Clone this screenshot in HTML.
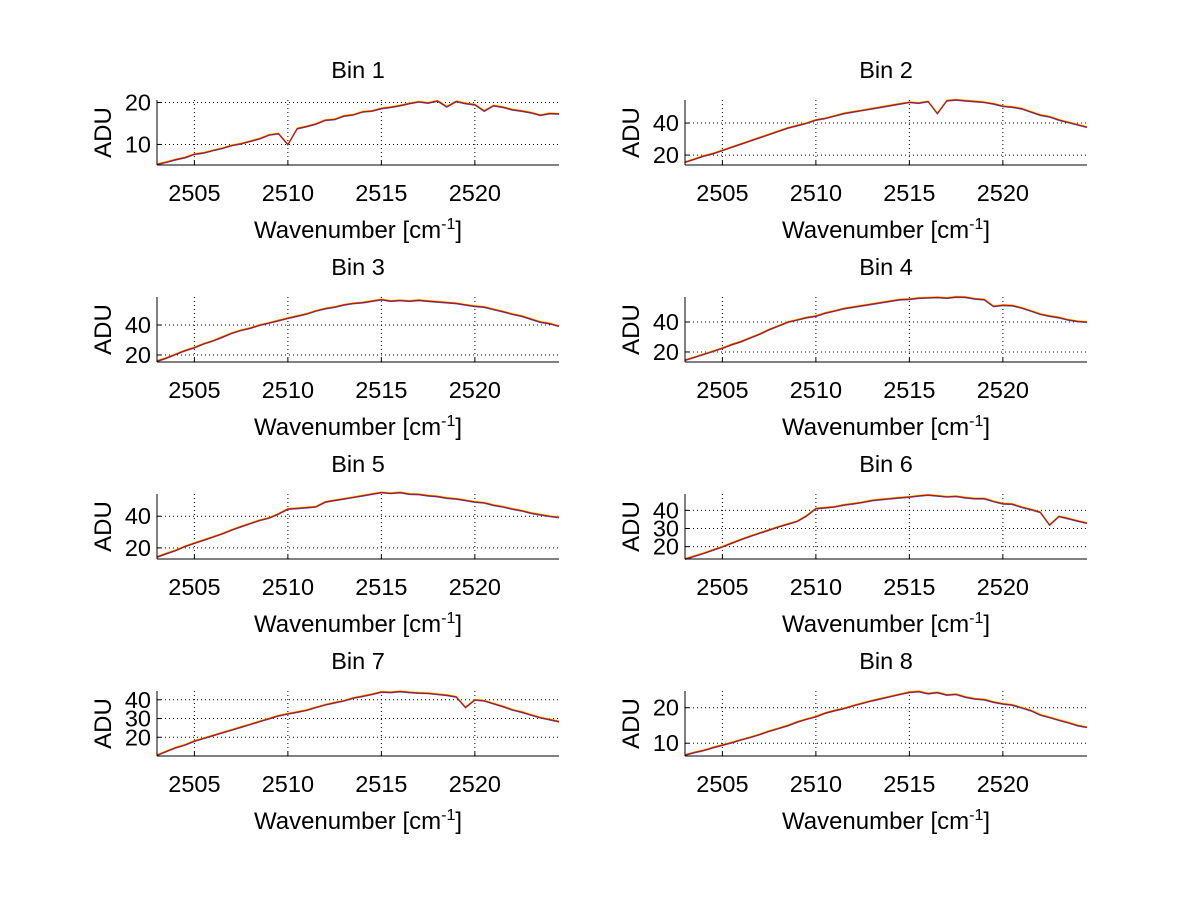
<!DOCTYPE html>
<html><head><meta charset="utf-8"><style>
html,body{margin:0;padding:0;background:#fff;}
svg{display:block;font-family:"Liberation Sans",Arial,sans-serif;}
</style></head><body>
<svg id="fig" width="1200" height="901" viewBox="0 0 1200 901" xmlns="http://www.w3.org/2000/svg"></svg>
<script>
const wavenumbers = [2503,2503.5,2504,2504.5,2505,2505.5,2506,2506.5,2507,2507.5,2508,2508.5,2509,2509.5,2510,2510.5,2511,2511.5,2512,2512.5,2513,2513.5,2514,2514.5,2515,2515.5,2516,2516.5,2517,2517.5,2518,2518.5,2519,2519.5,2520,2520.5,2521,2521.5,2522,2522.5,2523,2523.5,2524,2524.5];
const xTicks = [2505,2510,2515,2520];
const bin1 = [5.3,5.8,6.4,6.9,7.7,8.0,8.6,9.1,9.8,10.2,10.8,11.4,12.3,12.6,10.0,13.8,14.3,14.9,15.8,16.0,16.8,17.1,17.8,18.0,18.6,18.9,19.3,19.8,20.2,19.9,20.4,19.0,20.3,19.8,19.5,18.0,19.3,18.9,18.3,18.0,17.6,17.0,17.4,17.3];
const bin2 = [15.6,17.5,19.5,21,23,25,27,29,31,33,35,37,38.5,40,42,43,44.5,46,47,48,49,50,51,52,53,52.5,53.5,46,54,54.5,54,53.5,53,52,50.6,50,49,47,45,44,42,40.5,39,37.5];
const bin3 = [16,18,20.5,23,25,27.5,29.5,32,34.6,36.5,38,40,41.5,43,44.6,46,47.5,49.5,51,52,53.5,54.5,55,56,57,56,56.5,56,56.6,56,55.5,55,54.5,53.5,52.6,52,50.5,49,47.3,46,44,42,41,39.3];
const bin4 = [14.6,16.5,18.5,20.5,22.6,25,27,29.5,32,35,37.5,40,41.5,43,44,46,47.5,49,50,51,52,53,54,55,55.3,56,56.2,56.5,56,56.8,56.6,55.5,55,50.5,51.3,51,49.5,47.5,45.3,44,43,41.5,40.5,40];
const bin5 = [14.3,16.5,18.5,21,23,25,27,29,31.4,33.5,35.5,37.5,39,41.5,44.6,45,45.5,46,49,50,51,52,53,54,55,54.5,55,54,53.8,53,52.5,51.5,51,50,49,48.5,47,46,44.6,43.5,42,41,40,39.3];
const bin6 = [13.2,14.8,16.4,18.2,20,22,24,25.8,27.6,29.2,31,32.5,34,37,41,41.5,42,43,43.7,44.5,45.5,46,46.5,47,47.4,48,48.5,48,47.5,47.8,47,46.5,46.5,45,43.7,43.5,41.8,40.5,39,32,36.7,35.5,34.2,33];
const bin7 = [10.5,12.5,14.5,16,18,19.5,21,22.5,24,25.5,27,28.5,30,31.5,32.6,33.5,34.5,36,37.4,38.5,39.5,41,42,43,44.2,44,44.5,44,43.7,43.5,43,42.5,41.6,36,40,39.5,38,36.5,34.7,33.5,32,30.5,29.5,28.4];
const bin8 = [6.7,7.4,8,8.8,9.5,10.2,11,11.7,12.5,13.4,14.2,15,16,16.8,17.5,18.5,19.2,19.8,20.6,21.3,22,22.6,23.2,23.8,24.4,24.6,24,24.3,23.6,23.8,23,22.5,22.3,21.6,21.1,20.8,20,19.2,18,17.3,16.5,15.8,15,14.5];
const binSeries = [bin1,bin2,bin3,bin4,bin5,bin6,bin7,bin8];
const binTitles = ["Bin 1","Bin 2","Bin 3","Bin 4","Bin 5","Bin 6","Bin 7","Bin 8"];
const yLims = [[5.1,20.6],[13.8,54.4],[15.3,58.7],[13.3,56.7],[13,54],[13.2,49],[10,44.7],[6.4,24.7]];
const yTicks = [[10,20],[20,40],[20,40],[20,40],[20,40],[20,30,40],[20,30,40],[10,20]];

const NS="http://www.w3.org/2000/svg";
const svg=document.getElementById('fig');
function mk(tag,attrs,parent){const e=document.createElementNS(NS,tag);for(const k in attrs)e.setAttribute(k,attrs[k]);(parent||svg).appendChild(e);return e;}
const xMin=2503,xMax=2524.5,axW=402,axH=65;
const lefts=[157,685],tops=[100,297,494,691];
binSeries.forEach((data,i)=>{
  const L=lefts[i%2],T=tops[Math.floor(i/2)],B=T+axH,R=L+axW;
  const [y0,y1]=yLims[i];
  const sx=v=>L+(v-xMin)/(xMax-xMin)*axW;
  const sy=v=>B-(v-y0)/(y1-y0)*axH;
  const g=mk('g',{});
  
  
  xTicks.forEach(t=>{
    const l=mk('line',{x1:sx(t),x2:sx(t),y1:T,y2:B,stroke:'#000','stroke-width':1,'stroke-dasharray':'1,3'},g);
    
    
    mk('line',{x1:sx(t),x2:sx(t),y1:B,y2:B-4,stroke:'#000'},g);
    const tx=mk('text',{x:sx(t),y:B+36,'font-size':23.5,'text-anchor':'middle'},g);
    tx.textContent=t;
    
    
  });
  yTicks[i].forEach(t=>{
    const l=mk('line',{x1:L,x2:R,y1:sy(t),y2:sy(t),stroke:'#000','stroke-width':1,'stroke-dasharray':'1,3'},g);
    
    
    mk('line',{x1:L,x2:L+4,y1:sy(t),y2:sy(t),stroke:'#000'},g);
    const tx=mk('text',{x:L-6,y:sy(t)+8,'font-size':23.5,'text-anchor':'end'},g);
    tx.textContent=t;
    
    
  });
  const pts=data.map((v,j)=>sx(wavenumbers[j]).toFixed(1)+','+sy(v).toFixed(1)).join(' ');
  const pb=mk('polyline',{points:pts,fill:'none',stroke:'#3050c0','stroke-width':1,transform:'translate(0,0.6)'},g);
  
  
  const py=mk('polyline',{points:pts,fill:'none',stroke:'#e0d000','stroke-width':1,transform:'translate(0,-0.6)'},g);
  
  
  const pr=mk('polyline',{points:pts,fill:'none',stroke:'#e00000','stroke-width':1},g);
  
  
  mk('line',{x1:L,x2:L,y1:T,y2:B,stroke:'#000'},g);
  mk('line',{x1:L,x2:R,y1:B,y2:B,stroke:'#000'},g);
  const tt=mk('text',{x:L+axW/2,y:T-22,'font-size':23.5,'text-anchor':'middle'},g);
  tt.textContent=binTitles[i];
  
  
  const xl=mk('text',{x:L+axW/2,y:B+73,'font-size':24,'text-anchor':'middle'},g);
  xl.innerHTML='Wavenumber [cm<tspan dy="-9" font-size="16">-1</tspan><tspan dy="9">]</tspan>';
  
  
  const yl=mk('text',{x:0,y:0,'font-size':24,'text-anchor':'middle',transform:`translate(${L-46},${T+axH/2}) rotate(-90)`},g);
  yl.textContent='ADU';
  
  
});
</script>
</body></html>
